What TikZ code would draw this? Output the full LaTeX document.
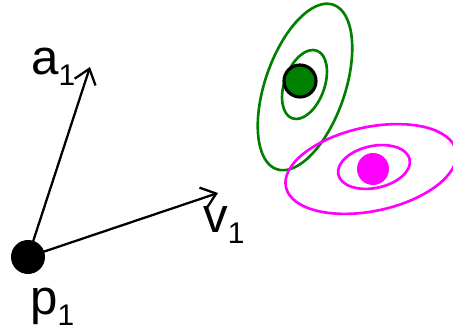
\documentclass[tikz,border=0pt]{standalone}
\usepackage{fontspec}
\setmainfont{Liberation Sans}
\usepackage{xcolor}
\usetikzlibrary{arrows.meta, positioning}
\definecolor{gaussgreen}{RGB}{0,128,0}
\definecolor{gaussmagenta}{RGB}{255,0,255}
\newcommand{\veclbl}[2]{#1\raisebox{-6pt}{\fontsize{17pt}{17pt}\selectfont #2}}

\begin{document}
\begin{tikzpicture}[
        x=0.02cm, y=0.02cm,
        dot/.style={circle, fill=black, inner sep=0pt, minimum size=0.68cm},
        mean/.style={circle, inner sep=0pt, minimum size=0.64cm},
        lbl/.style={inner sep=0pt, font=\fontsize{28pt}{28pt}\selectfont},
        vec/.style={-{Straight Barb[length=2.8mm, width=4.4mm]}, line width=1.3pt},
        cov/.style={line width=1.5pt}
    ]
        \useasboundingbox (0,0) rectangle (453,333);

        % particle and its vectors
        \node[dot] (p) at (28,76) {};
        \coordinate (atip) at (90,266);
        \coordinate (vtip) at (218,140);
        \draw[vec] (p.center) -- (atip);
        \draw[vec] (p.center) -- (vtip);
        \node[lbl, anchor=base west] (alabel) at (31,258) {\veclbl{a}{1}};
        \node[lbl, anchor=base west] (vlabel) at (203,100) {\veclbl{v}{1}};
        \node[lbl, anchor=base west] (plabel) at (30,18) {\veclbl{p}{1}};

        % green gaussian
        \coordinate (gc) at (305,246);
        \draw[cov, gaussgreen, rotate around={71:(gc)}] (gc) ellipse [x radius=1.74cm, y radius=0.8cm];
        \coordinate (gi) at (304.5,248.5);
        \draw[cov, gaussgreen, rotate around={70:(gi)}] (gi) ellipse [x radius=0.72cm, y radius=0.4cm];
        \node[mean, fill=gaussgreen, draw=black, line width=1.8pt] (gmean) at (300,252) {};

        % magenta gaussian
        \coordinate (mc) at (371,164);
        \draw[cov, gaussmagenta, rotate around={12:(mc)}] (mc) ellipse [x radius=1.74cm, y radius=0.84cm];
        \coordinate (mi) at (374,166);
        \draw[cov, gaussmagenta, rotate around={12:(mi)}] (mi) ellipse [x radius=0.73cm, y radius=0.42cm];
        \node[mean, fill=gaussmagenta] (mmean) at (373,164) {};
    \end{tikzpicture}
\end{document}
